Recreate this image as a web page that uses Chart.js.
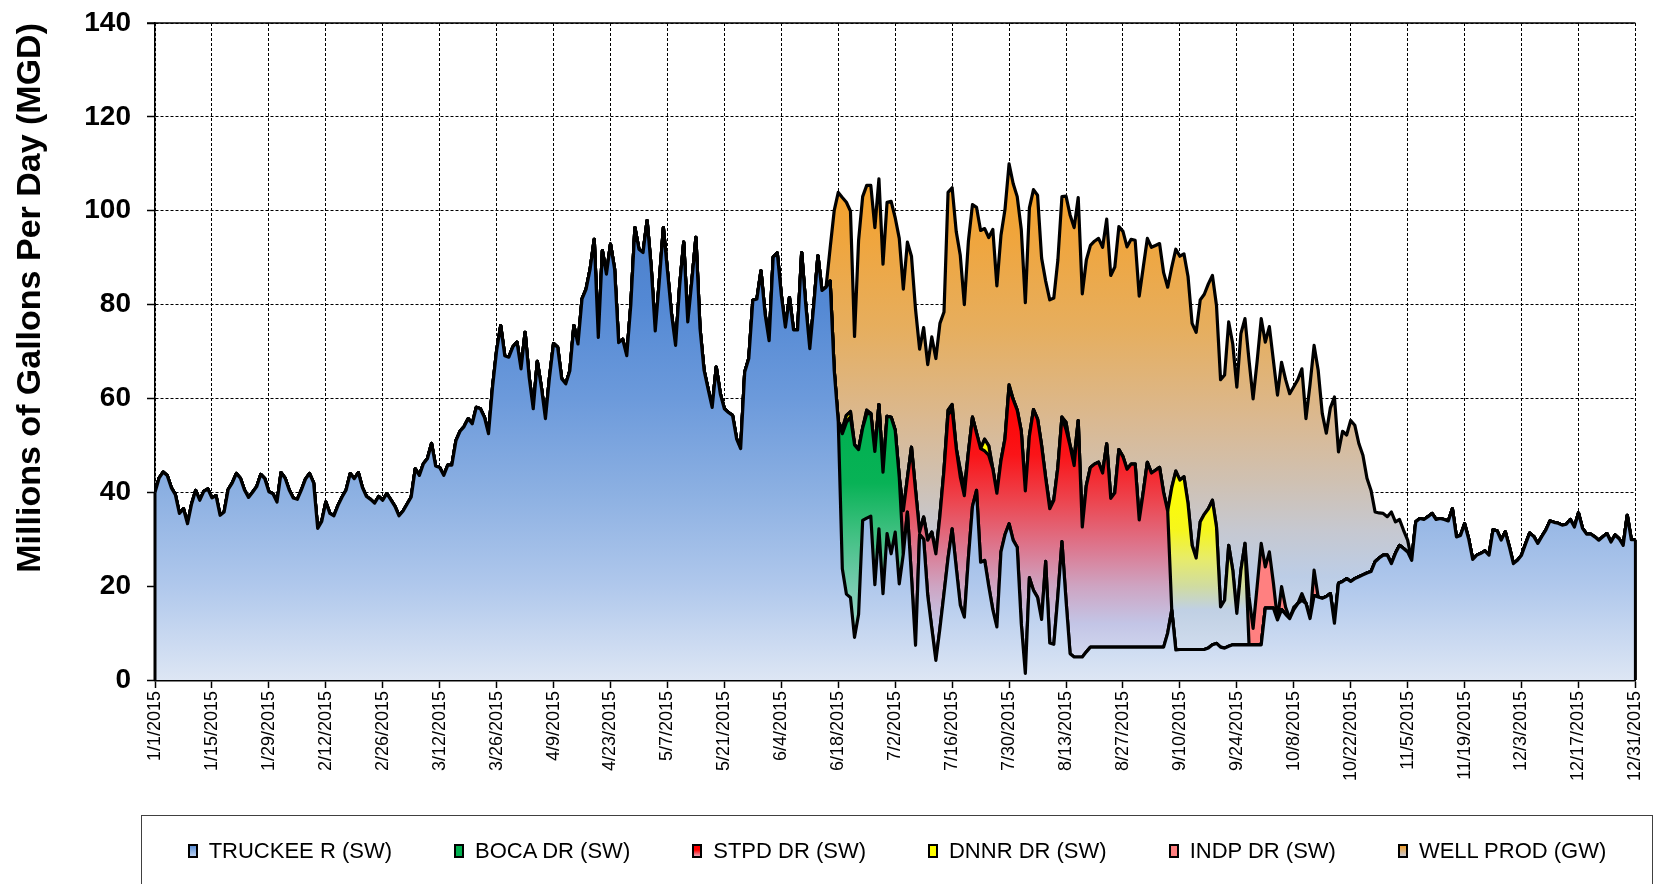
<!DOCTYPE html>
<html lang="en">
<head>
<meta charset="utf-8">
<title>Daily Water Production 2015</title>
<script src="https://cdn.jsdelivr.net/npm/chart.js@4.4.1/dist/chart.umd.min.js"></script>
<style>
  body { margin: 0; background: #fff; }
  #wrap { position: relative; width: 1660px; height: 884px; overflow: hidden; }
  #myChart { position: absolute; left: 0; top: 0; }
  #legend {
    position: absolute; left: 141px; top: 815px; width: 1512px; height: 90px;
    box-sizing: border-box; border: 1px solid #404040;
    display: flex; justify-content: center; align-items: flex-start;
    gap: 62px; padding-top: 24px;
    font-family: "Liberation Sans", Arial, sans-serif; font-size: 22px; line-height: 22px; color: #000;
  }
  .item { display: flex; align-items: center; white-space: nowrap; }
  .box { width: 10px; height: 14px; box-sizing: border-box; border: 2px solid #000; margin-right: 11px; }
</style>
</head>
<body>
<div id="wrap">
  <canvas id="myChart" width="1660" height="884"></canvas>
  <div id="legend"></div>
</div>
<script>
// day of year, 0 = 1/1/2015 ... 364 = 12/31/2015
const days = Array.from({ length: 365 }, (_, i) => i);

// Truckee River surface water, one value per day
const truckee = [
  40, 43, 44.3, 43.6, 41, 39.5, 35.5, 36.5, 33.3, 37.5,
  40.4, 38.3, 40.2, 40.7, 38.8, 39.3, 35.1, 35.8, 40.6, 42,
  44, 43, 40.5, 38.9, 40, 41.2, 43.8, 42.9, 40.1, 39.7,
  37.9, 44.2, 43, 40.5, 38.8, 38.5, 40.5, 42.8, 44, 42,
  32.3, 33.8, 37.9, 35.5, 35, 37.2, 39, 40.5, 44, 42.9,
  44.2, 41, 39.1, 38.5, 37.7, 39.1, 38.3, 39.7, 38.4, 37,
  35, 36, 37.5, 39, 45, 43.6, 46.1, 47.2, 50.4, 45.6,
  45.3, 43.6, 45.8, 45.8, 51, 53, 54, 55.7, 54.6, 58.1,
  57.8, 56, 52.5, 62.4, 70.2, 75.5, 69.1, 68.8, 71, 72,
  66.3, 74.1, 64.5, 57.8, 67.9, 62.4, 55.7, 64.5, 71.7, 70.9,
  64.2, 63.1, 65.9, 75.5, 71.6, 81.2, 83.3, 87.6, 93.9, 73,
  91.5, 86.5, 92.9, 87.6, 71.9, 72.6, 69.1, 80, 96.4, 91.8,
  91.1, 97.9, 88, 74.4, 85, 96.4, 87.2, 78, 71.3, 84,
  93.3, 76.3, 85, 94.3, 75, 66, 62, 58.1, 66.7, 61,
  57.8, 57, 56.4, 51.4, 49.3, 65.6, 68.5, 80.9, 81.2, 87.2,
  78, 72.3, 90.1, 91, 82, 75.2, 81.5, 74.6, 74.6, 91.1,
  80, 70.6, 80, 90.4, 83, 83.7, 85, 66, 55, 23.7,
  18.3, 17.6, 9.1, 14, 34, 34.5, 34.9, 20.3, 32.2, 18.4,
  31.2, 26.9, 31.5, 20.5, 26.9, 35.8, 22, 7.4, 31, 30,
  18, 11, 4.2, 11, 18.4, 26, 32.2, 24, 16, 13.4,
  26, 37, 40.4, 25.1, 25.5, 20, 15, 11.3, 27.3, 31,
  33.3, 29.8, 28.3, 12, 1.4, 21.8, 19.1, 17.6, 12.9, 25.3,
  7.9, 7.6, 18, 29.5, 17, 5.6, 4.9, 4.9, 4.9, 6,
  7, 7, 7, 7, 7, 7, 7, 7, 7, 7,
  7, 7, 7, 7, 7, 7, 7, 7, 7, 10,
  14.9, 6.4, 6.5, 6.5, 6.5, 6.5, 6.5, 6.5, 6.5, 6.8,
  7.5, 7.8, 7, 6.8, 7.2, 7.5, 7.5, 7.5, 7.5, 7.5,
  7.5, 7.5, 7.5, 15.3, 15.3, 15.3, 12.8, 15, 14, 13.1,
  15, 16.3, 17, 16.3, 13.1, 18, 17.7, 17.4, 17.8, 18.4,
  12.1, 20.6, 21, 21.6, 21, 21.6, 22, 22.4, 22.8, 23.1,
  25.2, 26, 26.6, 26.6, 24.8, 27, 28.7, 28, 27.3, 25.5,
  33.7, 34.4, 34.2, 34.8, 35.5, 34.2, 34.4, 34.2, 33.9, 36.5,
  30.5, 30.8, 33.3, 30.1, 25.7, 26.6, 27, 27.5, 26.6, 32,
  31.8, 29.8, 31.6, 28.4, 24.8, 25.5, 26.6, 29, 31.3, 30.6,
  29.1, 30.6, 32, 33.9, 33.6, 33.4, 33, 33.2, 34.2, 32.6,
  35.6, 32.3, 31.1, 31.1, 30.5, 29.8, 30.5, 31.2, 29.4, 30.9,
  30.1, 28.7, 35.1, 29.9, 29.9
];

// the other sources only run part of the year: first day + daily values
const bocaStart = 169;
const boca = [28.8, 36.6, 38.4, 41, 35.1, 19.7, 22.2, 21.9, 28.4, 26.5, 25.9, 25, 29.1, 21.7, 22.7];

const stpdStart = 184;
const stpd = [
  9.2, 7.2, 27.6, 33, 0.5, 4.7, 11.8, 20.5, 22.7,
  24, 26.3, 30.5, 25.5, 25.4, 27.3, 25.9, 22.5, 19, 12.2,
  24.2, 23.3, 27.9, 30, 28.5, 19.4, 20.4, 29, 30, 29.2,
  41, 38.9, 30.2, 38.5, 38, 37, 17.7, 28.6, 30.7, 27.3,
  26.5, 36.4, 44.3, 40.8, 50.4, 27.7, 35.4, 38.3, 39, 39.4,
  37.1, 43.3, 31.7, 32.9, 42.1, 40.6, 37.9, 39, 39, 27.1,
  33, 39.4, 37.1, 37.7, 38.3, 32.9, 26
];

const dnnrStart = 169;
const dnnr = [
  1, 1.5, 1.2, 0, 0, 0, 0.8, 0, 0, 0,
  0, 0, 0, 0, 0, 0, 0, 0, 0, 0,
  0, 0, 0, 0, 0, 0, 1, 1, 0, 1.5,
  1.5, 0, 0, 0, 0, 2.5, 2, 0, 0, 0,
  0, 0.6, 0, 0, 0, 0, 0, 0, 0, 0,
  0, 0.7, 0, 0, 0, 1.5, 0, 1.5, 0, 0,
  0, 0, 0, 0, 0, 0, 0, 0, 0, 0,
  0, 0, 0, 0, 0, 0, 0, 0, 0, 0,
  0, 26.1, 38.1, 36.1, 36.8, 31.1, 22.2, 19.5, 27.2, 28.8,
  29.7, 30.8, 24.8, 8.6, 10.2, 21.5, 15.9, 6.7, 15.9, 21.6
];

const indpStart = 269;
const indp = [10.2, 3.5, 12.5, 21.6, 8.8, 12, 5.3, 0, 4.9, 1.5, 0, 0.5, 0, 1.4, 0, 0, 5.4];

const wellStart = 166;
const well = [
  7, 34, 48.9, 49.3, 45.4, 42.7, 23.1, 44.6, 49.3, 47.9,
  48.6, 47.7, 48.1, 44.3, 45.6, 46, 45.3, 50.9, 47.2, 50.3,
  40.7, 38.6, 39, 40.4, 37.4, 41.6, 41.6, 41, 33.7, 46.4,
  46.2, 46.2, 45.7, 39.2, 45, 45.3, 48.1, 46.5, 44.9, 44.4,
  51, 44.2, 48, 48.9, 47.1, 46, 45.5, 43, 40.1, 48.6,
  46.9, 47.7, 40, 42, 43.8, 43.1, 44.2, 47, 48.2, 49.2,
  49.2, 47.5, 49.7, 48.1, 47.3, 47.5, 47.7, 48.1, 47.9, 47.5,
  48.1, 47.5, 48, 47.4, 47.9, 47.7, 47.7, 48, 47.7, 48.1,
  47.9, 47.7, 46.9, 47.7, 47, 47.3, 47.7, 47.5, 48.4, 47.3,
  48.1, 47.3, 46.9, 47.9, 47.9, 47.2, 48.4, 48, 47.6, 48.2,
  48.2, 50.4, 47.9, 50.4, 48.9, 48, 47.9, 47.9, 48, 47.4,
  47.9, 47.8, 48.5, 47.9, 47, 47.7, 47.9, 39.4, 49.9, 47.9,
  48.3, 39.4, 34.8, 39.6, 48.2, 28, 32, 30.6, 34.3, 32.7,
  28.4, 25.5, 20.2, 17.3, 10.6, 9.6, 8.9, 8.2, 11, 6.7,
  5.5, 3.9, 2.5, 0
];

// put a partial series on the full year (zero outside its run)
function spread(start, values) {
  const out = days.map(() => 0);
  values.forEach((v, i) => { out[start + i] = v; });
  return out;
}

function dayLabel(value) {
  const d = new Date(2015, 0, 1 + value);
  return (d.getMonth() + 1) + '/' + d.getDate() + '/2015';
}

// vertical gradient tied to the y scale, stops given as [value, colour]
function band(stops) {
  return function (context) {
    const chart = context.chart;
    if (!chart.chartArea) return stops[0][1];
    const y = chart.scales.y;
    const y0 = y.getPixelForValue(140), y1 = y.getPixelForValue(0);
    const g = chart.ctx.createLinearGradient(0, y0, 0, y1);
    stops.forEach(([v, c]) => g.addColorStop((y.getPixelForValue(v) - y0) / (y1 - y0), c));
    return g;
  };
}

// solid top edge of the plot and the closing edges of the area
const edges = {
  id: 'edges',
  afterDatasetsDraw(chart) {
    const { ctx, chartArea: a, scales: { y } } = chart;
    const pts = chart.getDatasetMeta(chart.data.datasets.length - 1).data;
    const base = y.getPixelForValue(0);
    ctx.save();
    ctx.strokeStyle = '#000';
    ctx.lineWidth = 1.5;
    ctx.beginPath();
    ctx.moveTo(a.left - 8, a.top);
    ctx.lineTo(a.right, a.top);
    ctx.stroke();
    ctx.lineWidth = 3;
    ctx.beginPath();
    ctx.moveTo(pts[0].x, pts[0].y);
    ctx.lineTo(pts[0].x, base);
    ctx.moveTo(pts[pts.length - 1].x, pts[pts.length - 1].y);
    ctx.lineTo(pts[pts.length - 1].x, base);
    ctx.stroke();
    ctx.restore();
  }
};

const datasets = [
  {
    label: 'TRUCKEE R (SW)', data: truckee, fill: 'origin',
    backgroundColor: band([[100, '#4a7ecb'], [80, '#5489d4'], [60, '#6c9adb'], [40, '#8cb0e2'], [20, '#b0c8ec'], [0, '#dde6f4']]),
    legendFill: 'linear-gradient(#5b8fd6, #b9cfef)'
  },
  {
    label: 'BOCA DR (SW)', data: spread(bocaStart, boca), fill: '-1',
    backgroundColor: band([[55, '#00b050'], [42, '#08b256'], [32, '#3cbf7e'], [22, '#6cc9a6'], [12, '#98d6c8']]),
    legendFill: '#00b050'
  },
  {
    label: 'STPD DR (SW)', data: spread(stpdStart, stpd), fill: '-1',
    backgroundColor: band([[60, '#ff0000'], [48, '#fa1418'], [38, '#ec4650'], [28, '#dc7890'], [20, '#cea4c2'], [12, '#c3c5e6'], [0, '#dde6f4']]),
    legendFill: 'linear-gradient(#ff0000 40%, #e8a4b8)'
  },
  {
    label: 'DNNR DR (SW)', data: spread(dnnrStart, dnnr), fill: '-1',
    backgroundColor: band([[42, '#ffff00'], [32, '#f6f61c'], [26, '#e8ec68'], [20, '#d0dca0'], [15, '#c0d0e4'], [0, '#dde6f4']]),
    legendFill: '#ffff00'
  },
  {
    label: 'INDP DR (SW)', data: spread(indpStart, indp), fill: '-1',
    backgroundColor: '#ff8080',
    legendFill: '#ff8080'
  },
  {
    label: 'WELL PROD (GW)', data: spread(wellStart, well), fill: '-1',
    backgroundColor: band([[110, '#f7a020'], [95, '#f0a53c'], [75, '#e6ae5e'], [55, '#dab992'], [42, '#cfc1b3'], [32, '#c6c8d0'], [22, '#bccde6'], [0, '#dde6f4']]),
    legendFill: 'linear-gradient(#f0a030, #c8c8d0)'
  }
];

const axisFont = { family: '"Liberation Sans", Arial, sans-serif' };

const myChart = new Chart(document.getElementById('myChart').getContext('2d'), {
  type: 'line',
  data: { labels: days, datasets: datasets },
  options: {
    responsive: false,
    animation: false,
    layout: { padding: { top: 23, right: 20, left: 0, bottom: 0 } },
    elements: {
      point: { radius: 0 },
      line: { tension: 0, borderWidth: 3.2, borderColor: '#000', borderJoinStyle: 'round' }
    },
    plugins: { legend: { display: false }, tooltip: { enabled: false } },
    scales: {
      x: {
        type: 'linear', min: 0, max: 364,
        ticks: {
          stepSize: 14, autoSkip: false, maxRotation: 90, minRotation: 90, padding: 3,
          color: '#000', font: Object.assign({ size: 18 }, axisFont), callback: dayLabel
        },
        grid: { color: '#000', lineWidth: 1, tickLength: 8, tickColor: '#000', tickWidth: 1.5 },
        border: { color: '#000', width: 2.5, dash: [3, 2] },
        afterFit: function (scale) { scale.height = 204; }
      },
      y: {
        stacked: true, min: 0, max: 140,
        ticks: { stepSize: 20, padding: 16, color: '#000', font: Object.assign({ size: 28, weight: 'bold' }, axisFont) },
        title: {
          display: true, text: 'Millions of Gallons Per Day (MGD)', align: 'end', color: '#000',
          font: Object.assign({ size: 34, weight: 'bold' }, axisFont), padding: { top: 10, bottom: 0 }
        },
        grid: { color: '#000', lineWidth: 1, tickLength: 8, tickColor: '#000', tickWidth: 1.5 },
        border: { color: '#000', width: 1.5, dash: [3, 2] },
        afterFit: function (scale) { scale.width = 155; scale.paddingTop = 0; }
      }
    }
  },
  plugins: [edges]
});

// legend box under the chart
const legendBox = document.getElementById('legend');
myChart.data.datasets.forEach(function (ds) {
  const item = document.createElement('div');
  item.className = 'item';
  const box = document.createElement('span');
  box.className = 'box';
  box.style.background = ds.legendFill;
  item.appendChild(box);
  item.appendChild(document.createTextNode(ds.label));
  legendBox.appendChild(item);
});
</script>
</body>
</html>
